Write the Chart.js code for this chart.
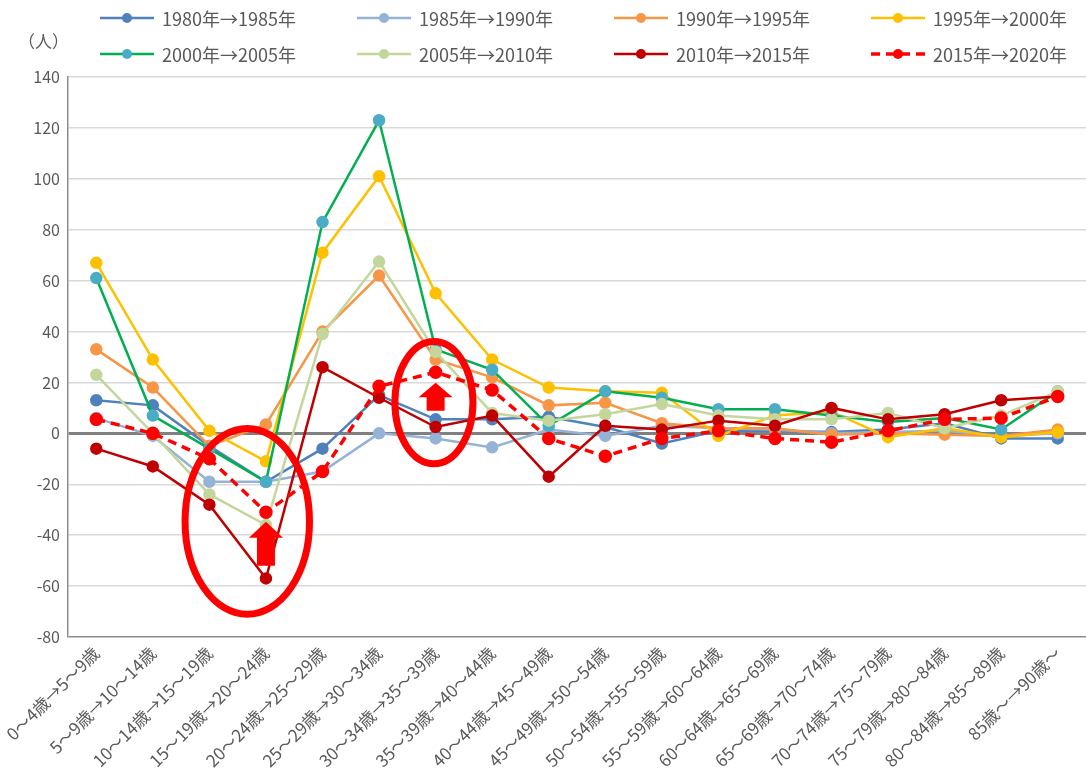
<!DOCTYPE html>
<html>
<head>
<meta charset="utf-8">
<script src="https://cdn.jsdelivr.net/npm/chart.js@4.4.1/dist/chart.umd.min.js"></script>
<style>
html, body { margin: 0; padding: 0; background: #fff; }
#wrap { width: 1086px; height: 773px; position: relative; }
</style>
</head>
<body>
<div id="wrap"><canvas id="chart" width="1086" height="773"></canvas></div>
<script>
// age cohort shifts (5-year)
const categories = [
	'0〜4歳→5〜9歳', '5〜9歳→10〜14歳', '10〜14歳→15〜19歳', '15〜19歳→20〜24歳',
	'20〜24歳→25〜29歳', '25〜29歳→30〜34歳', '30〜34歳→35〜39歳', '35〜39歳→40〜44歳',
	'40〜44歳→45〜49歳', '45〜49歳→50〜54歳', '50〜54歳→55〜59歳', '55〜59歳→60〜64歳',
	'60〜64歳→65〜69歳', '65〜69歳→70〜74歳', '70〜74歳→75〜79歳', '75〜79歳→80〜84歳',
	'80〜84歳→85〜89歳', '85歳〜→90歳〜'
];
const seriesNames = [
	'1980年→1985年', '1985年→1990年', '1990年→1995年', '1995年→2000年',
	'2000年→2005年', '2005年→2010年', '2010年→2015年', '2015年→2020年'
];
const s1980 = [13, 11, -5, -19, -6, 15, 5.5, 5.5, 6.5, 2.5, -4, 1, 1, 0.5, 1.5, 4, -2, -2];
const s1985 = [6, -1, -19, -19, -15, 0, -2, -5.5, 1.5, -1, 3, 2, 1.5, 0, 0.5, 1, -1, 0];
const s1990 = [33, 18, -5, 3.5, 40, 62, 29, 22, 11, 12, 4, 2, 2, -0.5, 0, -0.5, -1, 1.5];
const s1995 = [67, 29, 1, -11, 71, 101, 55, 29, 18, 16.5, 16, -1, 7, 8.5, -1.5, 2, -1.5, 0.5];
const s2000 = [61, 7, -6, -19, 83, 123, 33, 25, 3, 16.5, 14, 9.5, 9.5, 7, 4.5, 6, 1.5, 16.5];
const s2005 = [23, 0, -24, -36, 39, 67.5, 32, 8, 5, 7.5, 11.5, 7, 5.5, 5.5, 8, 2, 7, 16.5];
const s2010 = [-6, -13, -28, -57, 26, 14, 2.5, 7, -17, 3, 1.5, 5, 3, 10, 5.5, 7.5, 13, 14.5];
const s2015 = [5.5, 0, -10, -31, -15, 18.5, 24, 17, -2, -9, -2, 1, -2, -3.5, 1, 5.5, 6, 14.5];
const yTicks = [-80, -60, -40, -20, 0, 20, 40, 60, 80, 100, 120, 140];

const allSeries = [s1980, s1985, s1990, s1995, s2000, s2005, s2010, s2015];
const lineColors = ['#4F81BD', '#95B3D7', '#F79646', '#FFC000', '#00B050', '#C3D69B', '#C00000', '#FF0000'];
const markColors = ['#4F81BD', '#95B3D7', '#F79646', '#FFC000', '#4BACC6', '#C3D69B', '#C00000', '#FF0000'];

const FONT = '"Noto Sans CJK JP", "Noto Sans", sans-serif';
const TXT = '#595959';

// red circles / arrows drawn on top (positions in category index / data units)
const ellipses = [
	{ x: 2.67, y: -34.6, rx: 1.10, ry: 36.5 },
	{ x: 5.97, y: 12.1, rx: 0.69, ry: 24 }
];
const arrows = [
	{ x: 3, tip: -34.7, neck: -41, base: -52 },
	{ x: 6, tip: 19.9, neck: 14.2, base: 8.9 }
];

const datasets = allSeries.map((d, i) => ({
	label: seriesNames[i],
	data: d,
	borderColor: lineColors[i],
	backgroundColor: markColors[i],
	pointBackgroundColor: markColors[i],
	pointBorderColor: markColors[i],
	borderWidth: i == 7 ? 3.5 : 2.5,
	borderDash: i == 7 ? [9, 6] : [],
	pointRadius: 5,
	pointHoverRadius: 5,
	tension: 0,
	order: 7 - i
}));

const extras = {
	id: 'extras',
	afterDatasetsDraw(chart) {
		const ctx = chart.ctx;
		const xs = chart.scales.x, ys = chart.scales.y;
		const step = xs.getPixelForValue(1) - xs.getPixelForValue(0);
		ctx.save();
		ctx.strokeStyle = '#FF0000';
		ctx.fillStyle = '#FF0000';
		ctx.lineWidth = 7;
		ellipses.forEach(e => {
			const cx = xs.getPixelForValue(0) + e.x * step;
			const cy = ys.getPixelForValue(e.y);
			const ry = Math.abs(ys.getPixelForValue(e.y + e.ry) - cy);
			ctx.beginPath();
			ctx.ellipse(cx, cy, e.rx * step, ry, 0, 0, Math.PI * 2);
			ctx.stroke();
		});
		arrows.forEach(a => {
			const cx = xs.getPixelForValue(a.x);
			const tip = ys.getPixelForValue(a.tip);
			const neck = ys.getPixelForValue(a.neck);
			const base = ys.getPixelForValue(a.base);
			ctx.beginPath();
			ctx.moveTo(cx, tip);
			ctx.lineTo(cx + 17, neck);
			ctx.lineTo(cx + 9, neck);
			ctx.lineTo(cx + 9, base);
			ctx.lineTo(cx - 9, base);
			ctx.lineTo(cx - 9, neck);
			ctx.lineTo(cx - 17, neck);
			ctx.closePath();
			ctx.fill();
		});
		ctx.restore();
	},
	afterDraw(chart) {
		const ctx = chart.ctx;
		ctx.save();
		ctx.font = '17px ' + FONT;
		ctx.fillStyle = TXT;
		ctx.textBaseline = 'middle';
		ctx.fillText('（人）', 18, 42);
		// legend, 4 columns x 2 rows
		chart.data.datasets.forEach((ds, i) => {
			const x = 100 + (i % 4) * 257;
			const y = 18 + Math.floor(i / 4) * 36;
			ctx.strokeStyle = ds.borderColor;
			ctx.lineWidth = ds.borderWidth;
			ctx.setLineDash(ds.borderDash);
			ctx.beginPath();
			ctx.moveTo(x, y);
			ctx.lineTo(x + 54, y);
			ctx.stroke();
			ctx.setLineDash([]);
			ctx.fillStyle = ds.pointBackgroundColor;
			ctx.beginPath();
			ctx.arc(x + 27, y, 5, 0, Math.PI * 2);
			ctx.fill();
			ctx.fillStyle = TXT;
			ctx.font = '18px ' + FONT;
			ctx.fillText(ds.label, x + 62, y + 1);
		});
		ctx.restore();
	}
};

new Chart(document.getElementById('chart').getContext('2d'), {
	type: 'line',
	data: { labels: categories, datasets: datasets },
	options: {
		responsive: false,
		animation: false,
		layout: { autoPadding: false, padding: { top: 77, left: 0, right: 0, bottom: 0 } },
		plugins: { legend: { display: false }, tooltip: { enabled: false } },
		scales: {
			x: {
				offset: true,
				grid: { display: false, drawTicks: false },
				border: { display: false },
				ticks: {
					color: TXT,
					font: { family: FONT, size: 17 },
					minRotation: 45,
					maxRotation: 45,
					padding: 6,
					autoSkip: false
				},
				afterFit: (scale) => {
					scale.height = 136;
					scale.paddingRight = 0;
					scale.paddingLeft = 0;
				}
			},
			y: {
				min: -80,
				max: 140,
				afterBuildTicks: (scale) => { scale.ticks = yTicks.map(v => ({ value: v })); },
				grid: {
					drawTicks: false,
					color: (c) => {
						if (!c.tick) return '#D9D9D9';
						if (c.tick.value === 0) return '#808080';
						if (c.tick.value === -80) return '#8C8C8C';
						return '#D9D9D9';
					},
					lineWidth: (c) => c.tick && c.tick.value === 0 ? 3 : 1.5
				},
				border: { display: true, color: '#8C8C8C', width: 1.5 },
				ticks: {
					color: TXT,
					font: { family: FONT, size: 16 },
					padding: 8
				},
				afterFit: (scale) => { scale.width = 68; }
			}
		}
	},
	plugins: [extras]
});
</script>
</body>
</html>
